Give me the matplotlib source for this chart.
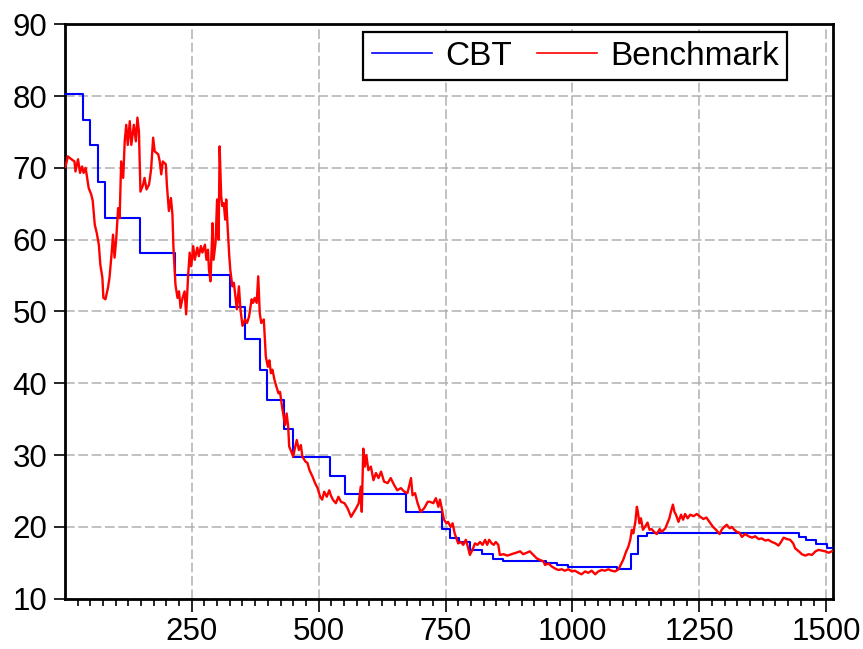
import matplotlib
matplotlib.use('Agg')
from matplotlib import pyplot as plt
from matplotlib.ticker import MultipleLocator

# CBT: step series, start of each step and its level
cbt_start = [0, 35, 49, 65, 80, 149, 217, 326, 354, 384, 399, 431, 450, 523, 552,
             673, 744, 759, 777, 798, 821, 843, 864, 948, 970, 992, 1088, 1116,
             1129, 1146, 1447, 1461, 1479, 1502]
cbt_level = [80.3, 76.6, 73.2, 68.1, 63.0, 58.2, 55.1, 50.6, 46.1, 41.9, 37.7, 33.6,
             29.7, 27.1, 24.6, 22.1, 19.7, 18.5, 17.9, 16.8, 16.2, 15.5, 15.3, 15.0,
             14.7, 14.4, 14.1, 16.2, 18.7, 19.1, 18.6, 18.2, 17.6, 17.0]
n_obs = 1514

# Benchmark: points
bench_x = [1, 6, 13, 19, 21, 26, 30, 34, 37, 41, 44, 47, 52, 55, 59, 63, 67, 70, 74, 76,
           80, 85, 88, 92, 95, 98, 101, 105, 108, 111, 115, 118, 121, 124, 128, 131, 136,
           140, 143, 146, 149, 154, 157, 161, 166, 170, 174, 177, 184, 187, 190, 193, 199,
           201, 205, 209, 212, 214, 218, 222, 225, 228, 232, 236, 239, 243,
           246, 249, 253, 256, 261, 264, 268, 271, 276, 279, 282, 284, 287, 291, 293, 297,
           300, 303, 305, 308, 310, 313, 316, 318, 321, 324, 326, 330, 333, 336, 339, 343,
           346, 350, 355, 359, 363, 368, 371, 374, 378, 381, 384, 387, 392,
           396, 400, 403, 406, 409, 413, 417, 421, 424, 428, 431, 434, 437, 440, 442, 446,
           450, 454, 457, 461, 465, 468, 474, 478, 482, 488, 493, 498, 503, 507, 511, 516,
           521, 524, 528, 534, 539, 544, 551, 557, 564, 568, 574, 579, 583, 585, 588, 591,
           594, 598, 603, 608, 613, 618, 623, 629, 636, 642, 649, 655, 662, 669, 675, 682,
           685, 690, 695, 701, 708, 715,
           719, 726, 731, 736, 739, 742, 747, 752, 755, 760, 764, 768, 775, 780, 785, 790,
           793, 798, 803, 808, 813, 818, 823, 828, 832, 836, 841, 845, 849, 854, 857, 864,
           872, 880, 889, 897, 903, 910, 916, 923, 930, 936, 943, 946, 953, 959, 966, 972,
           979, 985, 992, 999, 1005, 1012, 1018, 1025, 1031, 1038, 1045, 1051, 1058, 1064,
           1071, 1077, 1084, 1091, 1095, 1100, 1106, 1110, 1114, 1117, 1120, 1124, 1127,
           1129, 1132, 1135, 1139, 1143, 1148, 1152, 1156, 1161, 1166, 1172, 1176, 1183,
           1187, 1191, 1194, 1198, 1201, 1204, 1209, 1214, 1218, 1222, 1227, 1232, 1239,
           1245, 1252, 1258, 1264, 1270, 1277, 1283, 1290, 1294, 1299, 1304, 1310, 1314,
           1319, 1324, 1329, 1334, 1340, 1347, 1354, 1360, 1367, 1373, 1380, 1386, 1393,
           1400, 1406, 1411, 1416, 1423, 1429, 1435, 1439, 1446, 1452, 1459, 1465, 1472,
           1479, 1485, 1492, 1498, 1505, 1511]
bench_y = [70.1, 71.6, 71.2, 70.9, 69.5, 71.2, 69.3, 70.2, 69.3, 70.0, 68.6, 67.2, 66.3,
           65.4, 62.1, 60.9, 59.3, 56.5, 54.7, 51.9, 51.7, 53.3, 54.7, 57.9, 60.7, 57.5,
           59.8, 64.4, 63.0, 70.9, 68.6, 73.7, 76.0, 73.2, 76.5, 73.2, 76.0, 73.7, 77.0,
           75.1, 66.7, 67.6, 68.6, 67.0, 67.7, 69.8, 74.2, 72.3, 71.9, 70.9, 69.1, 70.9,
           70.5, 67.7, 64.0, 65.8, 63.5, 58.9, 53.7, 51.9, 52.8, 50.5, 51.9, 52.8, 49.6,
           55.1,
           58.2, 56.3, 59.1, 57.2, 58.9, 57.7, 59.1, 58.2, 59.3, 57.2, 58.6, 55.8, 54.2,
           62.3, 57.2, 59.6, 65.6, 60.0, 73.0, 66.1, 64.7, 65.1, 62.8, 65.6, 61.4, 57.7,
           55.8, 53.5, 54.0, 52.1, 50.3, 53.5, 50.3, 48.0, 48.9, 48.4, 49.3, 51.7, 51.2,
           51.9, 51.2, 54.9, 49.8, 48.4, 48.9,
           43.7, 42.3, 43.2, 41.4, 41.9, 40.5, 39.5, 38.6, 38.8, 36.7, 35.4, 34.2, 35.8,
           34.0, 31.2, 30.5, 29.8, 31.2, 32.1, 30.7, 31.4, 29.8, 29.1, 28.9, 27.9, 27.0,
           26.1, 25.4, 24.2, 23.8, 24.9, 24.2, 25.1, 24.4, 23.8, 23.3, 24.2, 23.5, 23.3,
           22.6, 21.4, 21.9, 22.6, 23.3, 25.6, 22.1, 30.9, 28.4, 30.0, 27.9, 28.4, 26.5,
           27.5, 26.8, 27.7, 26.3, 26.1, 26.8, 25.8, 25.1, 25.4, 24.9, 24.7, 26.8, 24.4,
           24.7, 23.3, 22.1, 22.6, 23.5,
           23.5, 23.3, 24.0, 22.8, 23.8, 22.8, 21.0, 20.5, 20.7, 20.0, 20.5, 19.1, 17.7,
           17.9, 17.5, 18.2, 17.5, 16.1, 16.8, 17.7, 17.5, 17.9, 17.5, 18.2, 17.5, 18.2,
           17.7, 17.5, 17.9, 17.5, 16.1, 16.2, 16.0, 16.2, 16.4, 16.6, 16.2, 16.4, 16.6,
           16.1, 15.6, 15.4, 15.2, 14.7, 14.9, 14.5, 14.2, 14.0, 14.1, 13.9, 14.1, 13.8,
           13.9, 13.6, 13.4, 13.8, 13.6, 13.9, 13.4, 13.8, 14.0, 13.9, 14.1, 13.9, 13.8,
           14.1, 14.7, 15.4, 16.6, 17.2, 18.2, 19.6, 19.1, 20.7, 22.8, 22.1, 20.5, 21.2,
           19.6, 20.0, 20.6, 19.6, 19.7, 19.3, 19.0, 19.7, 19.3, 19.8, 20.5, 21.2, 22.1,
           23.1, 22.1, 21.7, 20.7, 21.7, 21.0, 21.8, 21.2, 21.7, 21.5, 21.8, 21.4, 21.1,
           21.3, 20.7, 20.0, 19.6, 19.0, 19.6, 20.0, 20.3, 19.8, 20.0, 19.6, 19.3, 19.2,
           18.6, 19.0, 18.7, 18.5, 18.7, 18.3, 18.4, 18.1, 18.2, 17.9, 17.7, 17.4, 17.9,
           18.5, 18.3, 18.2, 17.7, 17.0, 16.6, 16.2, 16.0, 16.2, 16.1, 16.6, 16.8, 16.7,
           16.6, 16.4, 16.6]

y_ticks = list(range(10, 100, 10))


def draw(pathout):
    plt.rcParams['font.family'] = ['Liberation Sans', 'DejaVu Sans']
    plt.rcParams['lines.scale_dashes'] = False

    fig = plt.figure(figsize=(8.63, 6.49), dpi=100)
    ax = fig.add_axes([0.0757, 0.0775, 0.8899, 0.8851])

    '''数据'''
    steps_x = cbt_start + [n_obs]
    steps_y = cbt_level + [cbt_level[-1]]
    ax.step(steps_x, steps_y, where='post', color='#0000ff', linewidth=1.5, label='CBT', zorder=3)
    ax.plot(bench_x, bench_y, color='#ff0000', linewidth=1.7, label='Benchmark', zorder=4)

    ax.set_xlim(1, n_obs)
    ax.set_ylim(10, 90)

    '''设置grid'''
    ax.grid(True, color='#b0b0b0', linestyle=(0, (7, 2.6)), linewidth=1.1, zorder=0)
    ax.set_axisbelow(True)

    '''设置边框样式'''
    for s in ['top', 'bottom', 'left', 'right']:
        ax.spines[s].set_linewidth(2.0)
        ax.spines[s].set_color('k')

    ax.xaxis.set_major_locator(MultipleLocator(250))
    ax.xaxis.set_minor_locator(MultipleLocator(25))
    ax.set_yticks(y_ticks)
    ax.tick_params(axis='x', which='major', direction='out', length=9, width=1.2,
                   labelsize=22.5, pad=4, top=False)
    ax.tick_params(axis='x', which='minor', direction='out', length=5, width=1.2, top=False)
    ax.tick_params(axis='y', which='major', direction='out', length=8, width=1.2,
                   labelsize=22.5, pad=5, right=False)

    leg = ax.legend(loc='upper right', bbox_to_anchor=(0.9397, 0.986), ncol=2, fontsize=24,
                    frameon=True, fancybox=False, framealpha=1, edgecolor='k',
                    borderaxespad=0, handlelength=1.8, handletextpad=0.4,
                    columnspacing=0.75, borderpad=0.25)
    leg.get_frame().set_linewidth(1.6)
    for h in leg.get_lines():
        h.set_linewidth(1.2)

    fig.savefig(pathout + '/out.png', dpi=100)
    plt.close()
    return


def main():
    draw('.')
    return


if __name__ == "__main__":
    main()
